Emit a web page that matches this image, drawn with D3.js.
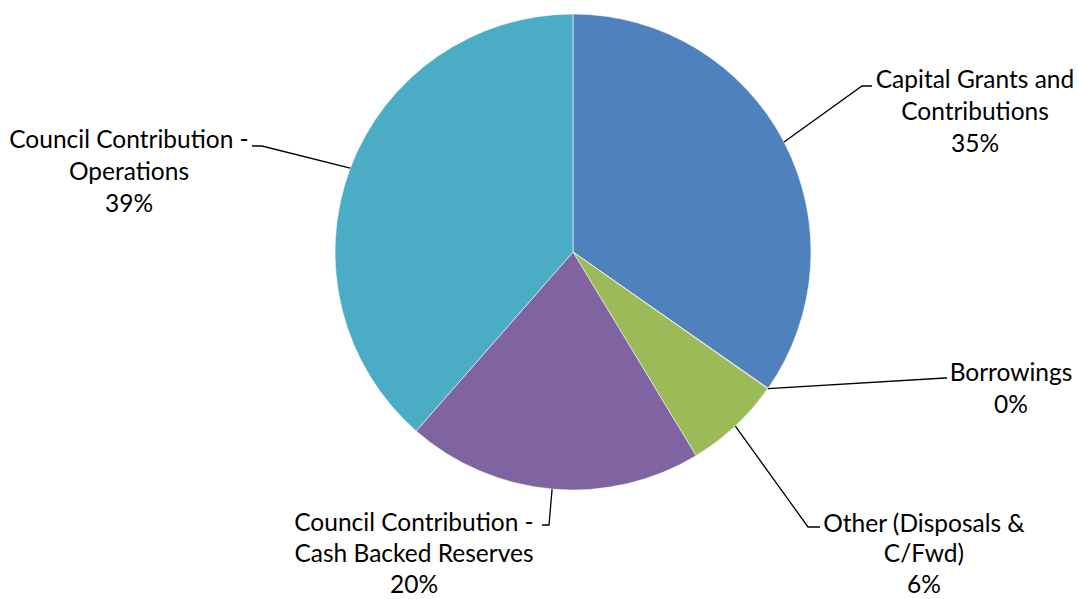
<!DOCTYPE html>
<html><head><meta charset="utf-8">
<script src="https://cdn.jsdelivr.net/npm/d3@7"></script>
<style>body{margin:0;background:#fff}svg{display:block}text{font-family:Lato,"Open Sans",sans-serif;font-size:24.5px;fill:#000}</style>
</head><body>
<svg id="c" width="1079" height="599"></svg>
<script>
const categories = ["Capital Grants and Contributions","Borrowings","Other (Disposals & C/Fwd)","Council Contribution - Cash Backed Reserves","Council Contribution - Operations"];
const values = [34.7, 0.05, 6.6, 20.1, 38.55];
const pctLabels = ["35%","0%","6%","20%","39%"];
const labelLines = [["Capital Grants and","Contributions"],["Borrowings"],["Other (Disposals &","C/Fwd)"],["Council Contribution -","Cash Backed Reserves"],["Council Contribution -","Operations"]];
const colors = ["#4F81BD","#C0504D","#9BBB59","#8064A2","#4BACC6"];

// layout (label anchors: text centre x, first line centre y, elbow point)
const cx = 573, cy = 252, R = 238;
const labelPos = [
  {x:975, y:79, ex:862, ey:86, hx:872},
  {x:1011, y:372, ex:945, ey:378, hx:947},
  {x:924, y:523, ex:808, ey:527, hx:820, lh:30.5},
  {x:414, y:522, ex:549, ey:525, hx:542, lh:31},
  {x:129, y:139, ex:262, ey:146, hx:252}
];
const lineH = 32;

const svg = d3.select("#c");
const g = svg.append("g").attr("transform",`translate(${cx},${cy})`);
const pie = d3.pie().sort(null).value(d=>d);
const arcs = pie(values);
const arc = d3.arc().innerRadius(0).outerRadius(R);
g.selectAll("path").data(arcs).join("path")
  .attr("d",arc).attr("fill",(d,i)=>colors[i])
  .attr("stroke","#fff").attr("stroke-width",0.8).attr("stroke-opacity",0.7);

arcs.forEach((a,i)=>{
  const m = (a.startAngle+a.endAngle)/2;
  const sx = cx + R*Math.sin(m), sy = cy - R*Math.cos(m);
  const p = labelPos[i];
  svg.append("polyline")
    .attr("points",`${sx},${sy} ${p.ex},${p.ey} ${p.hx},${p.ey}`)
    .attr("fill","none").attr("stroke","#000").attr("stroke-width",1.3);
  const lines = labelLines[i].concat([pctLabels[i]]);
  const t = svg.append("text").attr("text-anchor","middle");
  const lh = p.lh || lineH;
  lines.forEach((l,j)=>{
    t.append("tspan").attr("x",p.x).attr("y",p.y + j*lh).attr("dy","0.35em").text(l);
  });
});
</script>
</body></html>
